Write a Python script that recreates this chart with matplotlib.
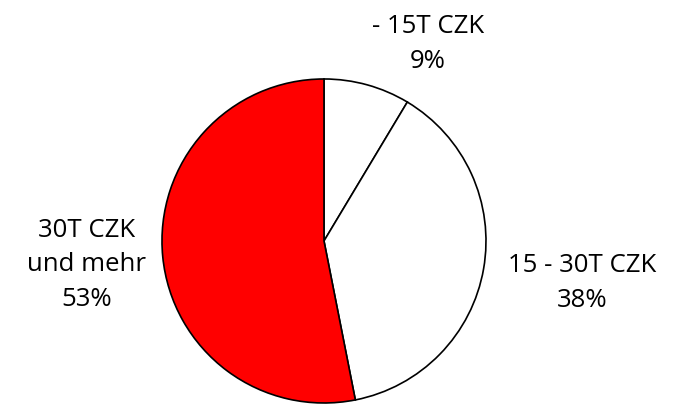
import matplotlib
matplotlib.use("Agg")
import matplotlib.pyplot as plt

# slice shares and their labels
shares = [8.6, 38.3, 53.1]
labels = ["- 15T CZK\n9%", "15 - 30T CZK\n38%", "30T CZK\nund mehr\n53%"]
colors = ["white", "white", "red"]
label_pos = [(0.642, 1.215), (1.593, -0.259), (-1.463, -0.148)]

fig = plt.figure(figsize=(6.8, 4.04), dpi=100)
ax = fig.add_axes([0.2382, 0.0025, 0.4765, 0.802])
ax.pie(shares, colors=colors, startangle=90, counterclock=False,
       wedgeprops=dict(edgecolor="black", linewidth=1.2))
ax.set_xlim(-1, 1)
ax.set_ylim(-1, 1)
ax.set_aspect("equal")

for text, (x, y) in zip(labels, label_pos):
    ax.text(x, y, text, ha="center", va="center", fontsize=18.5,
            family="Open Sans", linespacing=1.5, clip_on=False)

fig.savefig("out.png", dpi=100)
